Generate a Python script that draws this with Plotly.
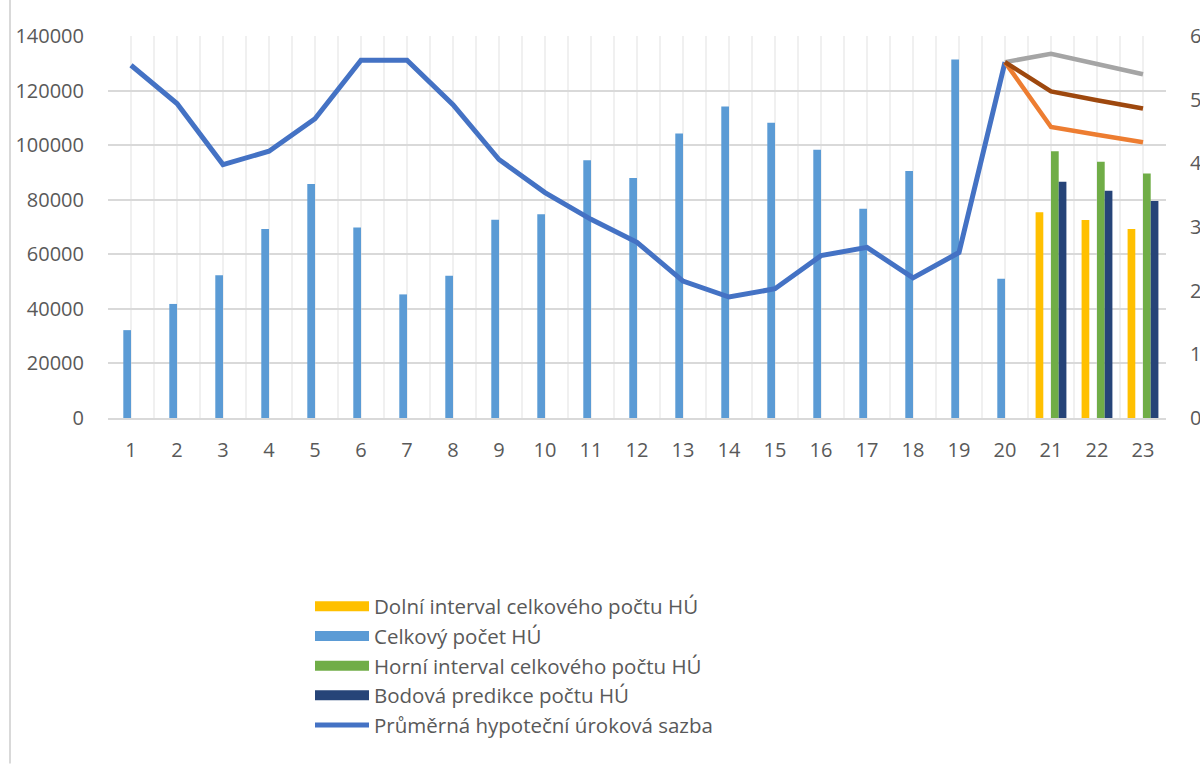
import plotly.graph_objects as go

# Periods on the category axis
periods = list(range(1, 24))
tick_labels = [str(p) for p in periods]

# Observed total number of mortgage loans (periods 1-20)
celkovy_x = list(range(1, 21))
celkovy = [32200, 41800, 52300, 69300, 85800, 69800, 45300, 52100, 72700, 74700,
           94500, 88000, 104300, 114200, 108200, 98300, 76700, 90500, 131400, 51000]

# Forecast periods and prediction interval bars
forecast_x = [21, 22, 23]
dolni = [75400, 72600, 69300]
horni = [97800, 93900, 89600]
bodova = [86600, 83300, 79500]

# Average mortgage interest rate (right axis)
sazba = [5.54, 4.94, 3.98, 4.19, 4.70, 5.62, 5.62, 4.92, 4.06, 3.54,
         3.12, 2.76, 2.15, 1.90, 2.03, 2.55, 2.68, 2.20, 2.60, 5.59]

# Rate scenarios from period 20 onwards
scen_x = [20, 21, 22, 23]
scen_high = [5.59, 5.72, 5.56, 5.40]
scen_mid = [5.59, 5.13, 4.99, 4.86]
scen_low = [5.59, 4.57, 4.45, 4.33]

FONT = "Open Sans"
TXT = "#595959"
TICK_SIZE = 20
LEGEND_SIZE = 20.5

bar_series = [
    ("Dolní interval celkového počtu HÚ", forecast_x, dolni, "#FFC000"),
    ("Celkový počet HÚ", celkovy_x, celkovy, "#5B9BD5"),
    ("Horní interval celkového počtu HÚ", forecast_x, horni, "#70AD47"),
    ("Bodová predikce počtu HÚ", forecast_x, bodova, "#264478"),
]

fig = go.Figure()

for i, (name, xs, ys, color) in enumerate(bar_series):
    fig.add_trace(go.Bar(x=xs, y=ys, name=name, legendgroup=f"g{i}", showlegend=False,
                         marker=dict(color=color, line_width=0)))

fig.add_trace(go.Scatter(x=celkovy_x, y=sazba, name="Průměrná hypoteční úroková sazba",
                         mode="lines", yaxis="y2", showlegend=False, legendgroup="rate",
                         line=dict(color="#4472C4", width=5)))
fig.add_trace(go.Scatter(x=scen_x, y=scen_high, mode="lines", yaxis="y2", showlegend=False,
                         line=dict(color="#A5A5A5", width=4.5)))
fig.add_trace(go.Scatter(x=scen_x, y=scen_low, mode="lines", yaxis="y2", showlegend=False,
                         line=dict(color="#ED7D31", width=4.5)))
fig.add_trace(go.Scatter(x=scen_x, y=scen_mid, mode="lines", yaxis="y2", showlegend=False,
                         line=dict(color="#9E480E", width=4.5)))

# Legend entries: wide colour swatches for the bar series, a line for the rate
for i, (name, _, _, color) in enumerate(bar_series):
    fig.add_trace(go.Scatter(x=[None], y=[None], name=name, legendgroup=f"g{i}",
                             mode="lines", line=dict(color=color, width=13)))
fig.add_trace(go.Scatter(x=[None], y=[None], name="Průměrná hypoteční úroková sazba",
                         legendgroup="rate", mode="lines", yaxis="y2",
                         line=dict(color="#4472C4", width=5)))

fig.update_layout(
    width=1200, height=764,
    margin=dict(l=108, r=34, t=36, b=346, autoexpand=False),
    paper_bgcolor="white", plot_bgcolor="white",
    font=dict(family=FONT, size=TICK_SIZE, color=TXT),
    barmode="group", bargap=0.33, bargroupgap=0,
    xaxis=dict(
        range=[0.5, 23.5], tickmode="array", tickvals=periods, ticktext=tick_labels,
        showgrid=True, gridcolor="#F0F0F0", gridwidth=1.5,
        minor=dict(tickmode="linear", tick0=0.5, dtick=1, showgrid=True,
                   gridcolor="#F0F0F0", gridwidth=1.5),
        showline=True, linecolor="#D9D9D9", linewidth=2,
        ticks="", ticklabelstandoff=13, zeroline=False, automargin=False,
        tickfont=dict(family=FONT, size=TICK_SIZE, color=TXT),
    ),
    yaxis=dict(
        range=[0, 140000], tickmode="linear", tick0=0, dtick=20000, tickformat="d",
        showgrid=True, gridcolor="#D9D9D9", gridwidth=1.5, zeroline=False,
        ticks="", ticklabelstandoff=23, automargin=False,
        tickfont=dict(family=FONT, size=TICK_SIZE, color=TXT),
    ),
    yaxis2=dict(
        range=[0, 6], tickmode="linear", tick0=0, dtick=1, overlaying="y", side="right",
        showgrid=False, zeroline=False, ticks="", ticklabelstandoff=23, automargin=False,
        tickfont=dict(family=FONT, size=TICK_SIZE, color=TXT),
    ),
    legend=dict(
        x=(310 - 108) / 1058, xanchor="left",
        y=(418.5 - 587) / 382, yanchor="top",
        traceorder="normal", bgcolor="rgba(0,0,0,0)",
        font=dict(family=FONT, size=LEGEND_SIZE, color=TXT),
        itemwidth=54, tracegroupgap=0,
    ),
    shapes=[dict(type="line", xref="paper", yref="paper",
                 x0=(10 - 108) / 1058, x1=(10 - 108) / 1058,
                 y0=(418.5 - 0) / 382, y1=(418.5 - 764) / 382,
                 line=dict(color="#D9D9D9", width=2))],
)

fig.write_html("out.html")
